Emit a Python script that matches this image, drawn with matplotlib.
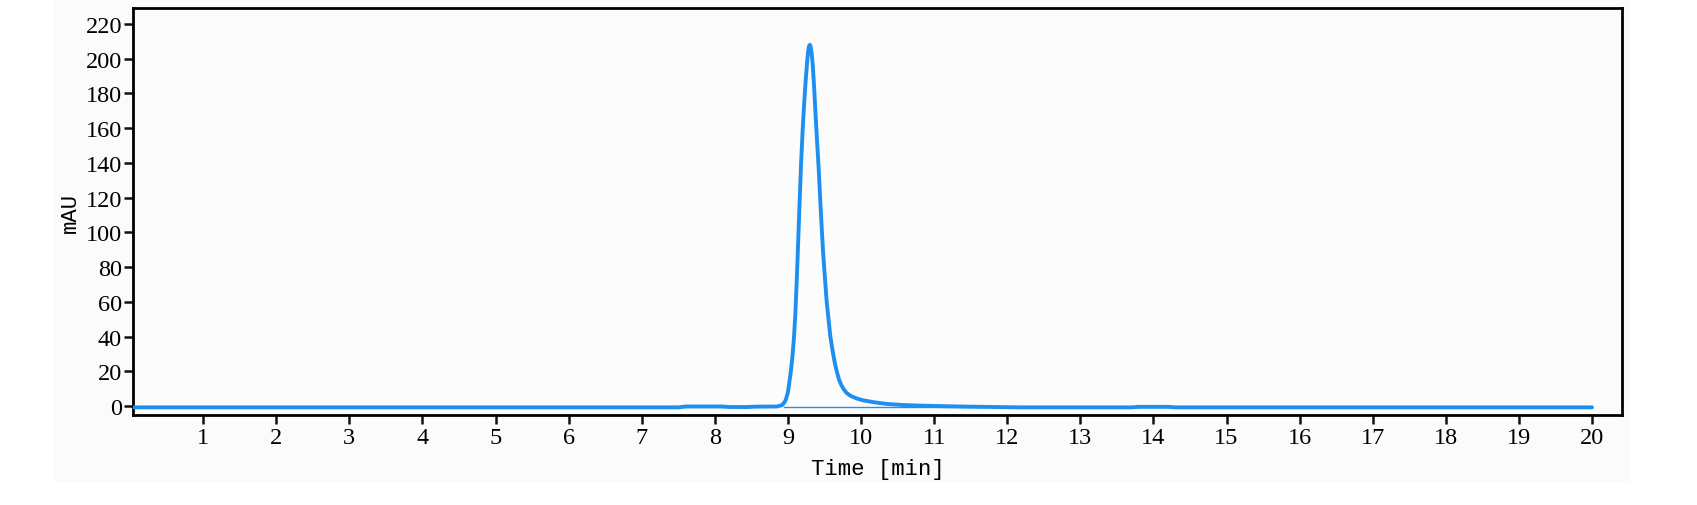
import matplotlib
matplotlib.use("Agg")
import matplotlib.pyplot as plt
from matplotlib.patches import Rectangle

# chromatogram (time in min, absorbance in mAU)
time_min = [0.0, 2.0, 4.0, 6.0, 7.5, 7.6, 8.1, 8.2, 8.45, 8.55, 8.85, 8.92,
            8.95, 8.97, 9.0, 9.02, 9.04, 9.06, 9.08, 9.10, 9.12, 9.14, 9.16,
            9.18, 9.20, 9.22, 9.24, 9.26, 9.275, 9.29, 9.30, 9.31, 9.325,
            9.34, 9.36, 9.38, 9.40, 9.42, 9.44, 9.46, 9.48, 9.50, 9.53,
            9.56, 9.58, 9.61, 9.64, 9.67, 9.70, 9.73, 9.76, 9.80, 9.85, 9.90,
            9.95, 10.03, 10.2, 10.35, 10.55, 10.81, 11.1, 11.49, 12.17,
            13.7, 13.8, 14.2, 14.3, 16.0, 18.0, 20.0]
mau = [-0.8, -0.8, -0.8, -0.8, -0.8, -0.3, -0.3, -0.6, -0.6, -0.4, -0.3, 0.5,
       2.0, 3.5, 8.0, 14.0, 20.0, 28.0, 38.0, 52.0, 72.0, 95.0, 118.0,
       140.0, 158.0, 173.0, 186.0, 197.0, 204.0, 207.5, 208.0, 207.0, 203.0,
       196.0, 182.0, 166.0, 151.0, 137.0, 120.0, 104.0, 89.0, 77.0, 60.0,
       48.0, 40.0, 32.0, 25.0, 19.5, 15.0, 12.0, 9.8, 7.6, 6.0, 5.0,
       4.2, 3.2, 2.0, 1.2, 0.6, 0.2, -0.1, -0.4, -0.8,
       -0.8, -0.5, -0.5, -0.8, -0.8, -0.8, -0.8]

# integration baseline under the peak
base_t = [8.95, 11.7]
base_v = [-0.6, -0.6]

x_ticks = list(range(1, 21))
y_ticks = list(range(0, 221, 20))

blue = "#1e8ff0"
tick_font = "Liberation Serif"
label_font = "Liberation Mono"

fig = plt.figure(figsize=(16.97, 5.06), dpi=100)
fig.patch.set_facecolor("white")
# light grey panel behind the plot, as in the exported image
fig.patches.append(Rectangle((53 / 1697, 1 - 483 / 506), (1630 - 53) / 1697, 483 / 506,
                             transform=fig.transFigure, facecolor="#fbfbfb",
                             edgecolor="none", zorder=-10))

ax = fig.add_axes([133 / 1697, 1 - 416 / 506, (1622 - 133) / 1697, (416 - 9) / 506])
ax.set_facecolor("#fcfcfc")

ax.plot(base_t, base_v, color=blue, lw=1.0, zorder=2)
ax.plot(time_min, mau, color=blue, lw=2.8, solid_joinstyle="round",
        solid_capstyle="round", zorder=3)

ax.set_xlim(0.04, 20.41)
ax.set_ylim(-5.2, 229.2)
ax.set_xticks(x_ticks)
ax.set_yticks(y_ticks)

for s in ax.spines.values():
    s.set_linewidth(2.0)
    s.set_color("black")
ax.tick_params(axis="both", direction="out", length=6.5, width=1.8, color="#111111",
               labelsize=17.5)
ax.tick_params(axis="y", pad=1.5)
ax.tick_params(axis="x", pad=2.5)
for lab in ax.get_xticklabels() + ax.get_yticklabels():
    lab.set_fontfamily(tick_font)

ax.set_xlabel("Time [min]", fontsize=16, family=label_font, labelpad=7)
ax.set_ylabel("mAU", fontsize=16, family=label_font, labelpad=3)

fig.savefig("out.png", dpi=100)
